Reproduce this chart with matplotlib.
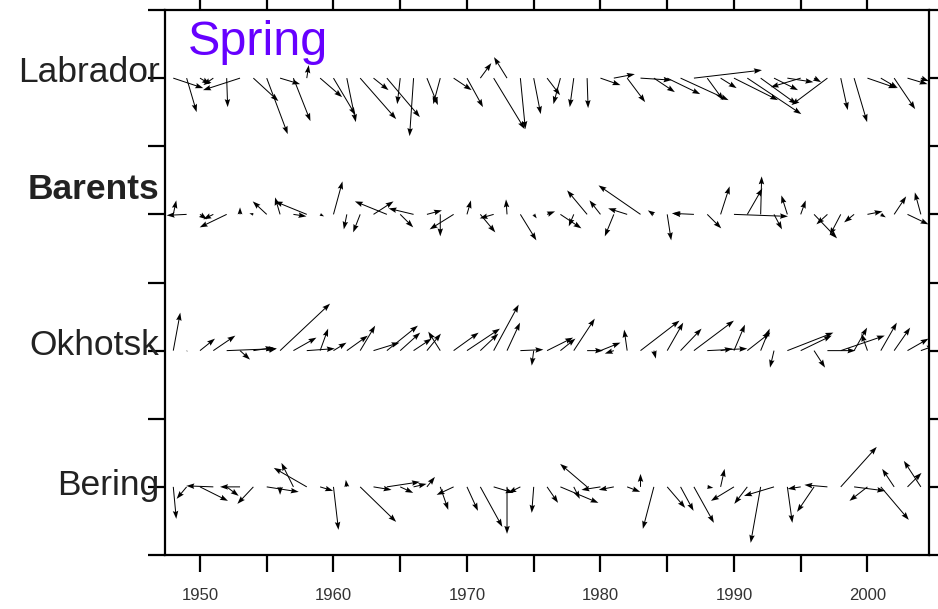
import numpy as np
import matplotlib.pyplot as plt

years = np.arange(1948, 2005)
rows = ['Labrador', 'Barents', 'Okhotsk', 'Bering']

# u (east) / v (north) components for each year, spring
lab_u = [30, 10, 10, -10, 1, -37, 25, 21, 20, 17, 2, 22, 22, 9, 36, 15, 33, -3, -4,
         11, -7, 18, 16, 11, 31, -13, 5, 7, 13, -7, -4, 1, 20, 21, 18, 31, 21, 33,
         48, 68, 16, 16, 44, 54, 36, 24, 26, -30, 7, -36, 7, 13, 29, 17, 21, 20, 8]
lab_v = [-10, -34, -6, -7, -29, -12, -23, -56, -6, -43, 13, -19, -37, -44, -41, -12, -39, -26, -58,
         -27, -26, -12, -29, 15, -51, 21, -51, -36, -17, -26, -29, -30, -7, 4, -24, -2, -14, -16,
         -22, 8, -22, -10, -22, -36, -26, -12, -4, -9, -4, -27, -32, -44, -10, -10, -31, -6, -3]

bar_u = [3, -20, 7, -10, -27, 0, -4, -14, -5, 13, -32, 4, 9, -3, -7, 20, -32, 13, -25,
         15, 0, -24, 4, 15, -14, -1, 16, 3, 8, 21, -5, -20, -11, -9, -19, -42, -6, 4,
         -8, -22, 14, 9, 54, 15, 1, 8, -6, 5, 23, -11, -11, -10, 15, 5, 12, 21, -6]
bar_v = [14, -1, -5, -5, -13, 7, 1, 13, 17, -2, 13, -2, 33, -15, -18, 13, 13, -13, 6,
         4, -22, -15, 14, -18, -4, 15, -26, -4, 3, -14, -12, 24, 14, -22, 6, 29, 4, -26,
         1, 1, -14, 28, -2, 26, 38, -15, 19, 14, -24, -10, -21, -8, 3, -3, 18, -10, 22]

okh_u = [7, 1, 15, 22, 50, 10, 20, 10, 50, 23, 28, 8, 13, 21, 15, 26, 31, 20, 18,
         14, -12, 25, 33, 18, 25, 13, 23, -2, 26, 15, 21, 16, 20, -9, -3, 39, 2, 16,
         21, 40, 40, 12, 11, 23, 9, -4, 46, 31, 11, 28, 44, 13, -6, 16, 16, 21, 14]
okh_v = [38, -1, 12, 15, 2, -9, 3, 2, 47, 13, 2, 22, 8, 15, 25, 8, 25, 18, 12,
         17, 19, 18, 22, 17, 46, 28, 1, -15, 13, 12, 32, 0, 8, -3, 21, 30, -8, 28,
         22, 30, 2, 2, 26, 18, 22, -17, 18, 15, -17, 0, 15, 23, 17, 28, 23, 12, 5]

ber_u = [3, -10, 28, -27, 12, -20, -16, 32, 0, -12, -33, 13, 5, -1, 36, 18, 33, 13, 13,
         8, 8, -17, 11, 22, 20, 0, -12, -2, 11, 38, 6, -27, -19, -15, 13, 0, -11, 18,
         13, 20, 6, 4, -23, -13, -10, -30, 5, -13, -17, -23, 36, 31, -18, 28, -12, 14, -17]
ber_v = [-32, -12, -14, 1, -9, 0, -17, -5, -8, 24, 19, -4, -43, 7, -35, -3, 5, -6, 3,
         10, -23, -8, -24, -40, -6, -47, -6, -26, -16, -16, -12, 23, -3, -3, -5, 13, -42, -21,
         -24, -36, -1, 18, -14, -17, -56, -9, -36, -2, -25, 2, 40, -4, -14, -33, 18, 14, 26]

series = [(lab_u, lab_v), (bar_u, bar_v), (okh_u, okh_v), (ber_u, ber_v)]
row_y = [4, 3, 2, 1]
label_dy = [0.04, 0.18, 0.04, 0.01]

plt.rcParams['font.family'] = ['Liberation Sans', 'DejaVu Sans']

fig = plt.figure(figsize=(9.38, 6.09), dpi=100)
ax = fig.add_axes([165/938, 1-555/609, (929-165)/938, 545/609])

for (u, v), y in zip(series, row_y):
    ax.quiver(years, np.full(len(years), y), u, v, units='dots', scale_units='dots',
              scale=1, width=1.0, headwidth=5.5, headlength=8, headaxislength=7,
              color='black', pivot='tail')

ax.set_xlim(1947.38, 2004.61)
ax.set_ylim(0.5, 4.5)
ax.set_xticks([1950, 1960, 1970, 1980, 1990, 2000])
ax.set_xticks([1955, 1965, 1975, 1985, 1995], minor=True)
ax.set_yticks(np.arange(0.5, 4.6, 0.5))
ax.set_yticklabels([])
ax.tick_params(axis='both', which='both', direction='out', length=12, width=1.6,
               top=True, right=True, labelsize=12, labelcolor='#333333', pad=12)
for s in ax.spines.values():
    s.set_linewidth(1.6)

for name, y, dy in zip(rows, row_y, label_dy):
    ax.text(-0.007, y + dy, name, transform=ax.get_yaxis_transform(), ha='right',
            va='center', fontsize=25.5, color='#222222',
            fontweight='bold' if name == 'Barents' else 'normal')

ax.text(0.030, 4.17, 'Spring', transform=ax.get_yaxis_transform(), fontsize=35,
        color='#6600ff', ha='left', va='baseline')

fig.savefig('out.png', dpi=100)
